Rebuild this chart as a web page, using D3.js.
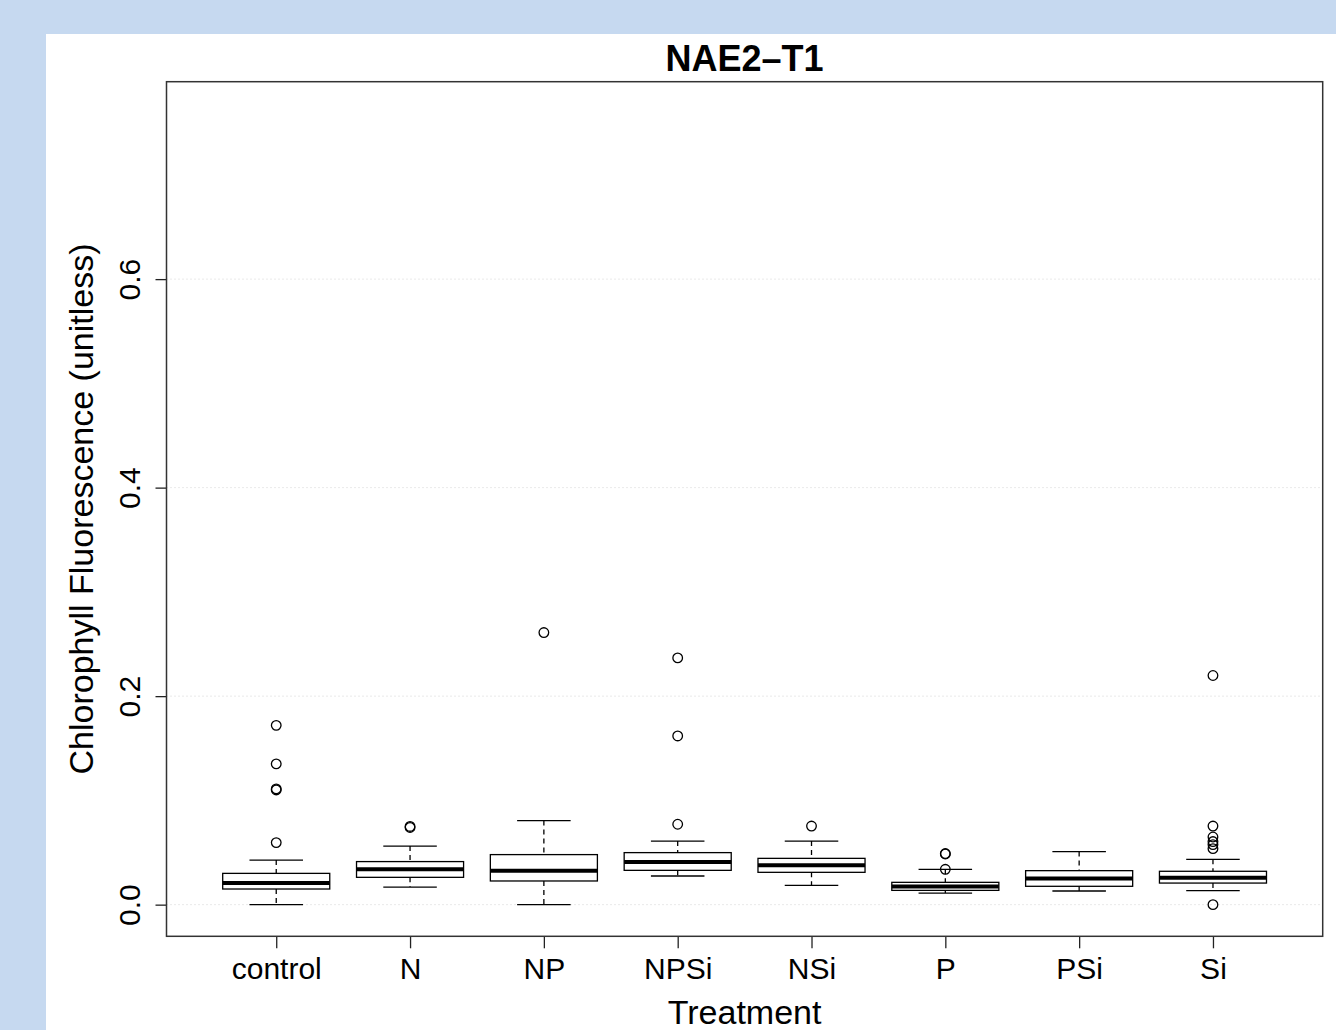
<!DOCTYPE html>
<html>
<head>
<meta charset="utf-8">
<script src="https://cdn.jsdelivr.net/npm/d3@7"></script>
<style>
  body { margin: 0; background: #c6d9f0; }
  svg { display: block; }
</style>
</head>
<body>
<div id="chart"></div>
<script>
// boxplot stats per treatment
const treatments = ["control", "N", "NP", "NPSi", "NSi", "P", "PSi", "Si"];
const whiskerLow  = [0.0,    0.0169, 0.0,    0.0275, 0.0185, 0.0111, 0.0131, 0.0134];
const q1          = [0.015,  0.0262, 0.0227, 0.0329, 0.031,  0.0137, 0.0176, 0.0207];
const medians     = [0.0207, 0.0339, 0.0326, 0.0409, 0.0377, 0.0173, 0.0252, 0.0259];
const q3          = [0.030,  0.0413, 0.048,  0.0499, 0.0444, 0.0214, 0.0326, 0.032];
const whiskerHigh = [0.0428, 0.0562, 0.0806, 0.061,  0.061,  0.0339, 0.0509, 0.0435];
const outliers = [
  [0.172, 0.135, 0.110, 0.111, 0.0595],
  [0.074, 0.075],
  [0.261],
  [0.2367, 0.1618, 0.0771],
  [0.0754],
  [0.0486, 0.049, 0.0339],
  [],
  [0.2198, 0.0754, 0.0649, 0.0605, 0.0576, 0.0537, 0.0]
];
const yTicks = [0, 0.2, 0.4, 0.6];
const yLim = [0, 0.759];

const width = 1336, height = 1030;
const plot = {left: 166.5, right: 1322.7, top: 81.7, bottom: 936.3};

const data = treatments.map((t, i) => ({
  name: t, lo: whiskerLow[i], q1: q1[i], med: medians[i], q3: q3[i], hi: whiskerHigh[i], out: outliers[i]
}));

const pad = (yLim[1] - yLim[0]) * 0.04;
const y = d3.scaleLinear().domain([yLim[0] - pad, yLim[1] + pad]).range([plot.bottom, plot.top]);
const x = d3.scalePoint().domain(treatments).range([plot.left, plot.right]).padding(0.82);
const boxW = x.step() * 0.8;
const capW = boxW / 2;

const svg = d3.select("#chart").append("svg")
    .attr("width", width)
    .attr("height", height)
    .attr("font-family", "'Liberation Sans', Arial, Helvetica, sans-serif");

svg.append("rect").attr("x", 0).attr("y", 0).attr("width", width).attr("height", height).attr("fill", "#c6d9f0");
svg.append("rect").attr("x", 46).attr("y", 34).attr("width", width - 46).attr("height", height - 34).attr("fill", "#fff");

// grid
svg.append("g").selectAll("line")
  .data(yTicks)
  .join("line")
    .attr("x1", plot.left).attr("x2", plot.right)
    .attr("y1", d => y(d)).attr("y2", d => y(d))
    .attr("stroke", "#d3d3d3")
    .attr("stroke-width", 1)
    .attr("stroke-dasharray", "1,3");

// axes
const yAxis = svg.append("g")
    .attr("transform", `translate(${plot.left},0)`)
    .call(d3.axisLeft(y).tickValues(yTicks).tickFormat(d3.format(".1f")).tickSize(11));
yAxis.select(".domain").remove();
yAxis.selectAll("line").attr("stroke", "#222").attr("stroke-width", 1.3);
yAxis.selectAll("text")
    .attr("transform", "rotate(-90)")
    .attr("x", 0).attr("y", -27).attr("dy", 0)
    .attr("text-anchor", "middle")
    .attr("font-size", 30)
    .attr("fill", "#000");

const xAxis = svg.append("g")
    .attr("transform", `translate(0,${plot.bottom})`)
    .call(d3.axisBottom(x).tickSize(12));
xAxis.select(".domain").remove();
xAxis.selectAll("line").attr("stroke", "#222").attr("stroke-width", 1.3);
xAxis.selectAll("text")
    .attr("y", 43).attr("dy", 0)
    .attr("font-size", 30)
    .attr("fill", "#000");

// boxes
const g = svg.append("g").selectAll("g")
  .data(data)
  .join("g")
    .attr("transform", d => `translate(${x(d.name)},0)`);

g.append("line")
    .attr("y1", d => y(d.hi)).attr("y2", d => y(d.q3))
    .attr("stroke", "#000").attr("stroke-width", 1.3).attr("stroke-dasharray", "5,4");
g.append("line")
    .attr("y1", d => y(d.q1)).attr("y2", d => y(d.lo))
    .attr("stroke", "#000").attr("stroke-width", 1.3).attr("stroke-dasharray", "5,4");
g.append("line")
    .attr("x1", -capW / 2).attr("x2", capW / 2)
    .attr("y1", d => y(d.hi)).attr("y2", d => y(d.hi))
    .attr("stroke", "#000").attr("stroke-width", 1.3);
g.append("line")
    .attr("x1", -capW / 2).attr("x2", capW / 2)
    .attr("y1", d => y(d.lo)).attr("y2", d => y(d.lo))
    .attr("stroke", "#000").attr("stroke-width", 1.3);
g.append("rect")
    .attr("x", -boxW / 2).attr("width", boxW)
    .attr("y", d => y(d.q3)).attr("height", d => y(d.q1) - y(d.q3))
    .attr("fill", "#fff").attr("stroke", "#000").attr("stroke-width", 1.3);
g.append("line")
    .attr("x1", -boxW / 2).attr("x2", boxW / 2)
    .attr("y1", d => y(d.med)).attr("y2", d => y(d.med))
    .attr("stroke", "#000").attr("stroke-width", 4);
g.selectAll("circle")
  .data(d => d.out)
  .join("circle")
    .attr("cy", d => y(d))
    .attr("r", 4.8)
    .attr("fill", "none").attr("stroke", "#000").attr("stroke-width", 1.3);

// frame
svg.append("rect")
    .attr("x", plot.left).attr("y", plot.top)
    .attr("width", plot.right - plot.left).attr("height", plot.bottom - plot.top)
    .attr("fill", "none").attr("stroke", "#333").attr("stroke-width", 1.5);

// titles
svg.append("text")
    .attr("x", (plot.left + plot.right) / 2).attr("y", 71)
    .attr("text-anchor", "middle").attr("font-size", 36).attr("font-weight", "bold")
    .text("NAE2\u2013T1");
svg.append("text")
    .attr("x", (plot.left + plot.right) / 2).attr("y", 1024)
    .attr("text-anchor", "middle").attr("font-size", 34)
    .text("Treatment");
svg.append("text")
    .attr("transform", `translate(93,${(plot.top + plot.bottom) / 2}) rotate(-90)`)
    .attr("text-anchor", "middle").attr("font-size", 34)
    .text("Chlorophyll Fluorescence (unitless)");
</script>
</body>
</html>
